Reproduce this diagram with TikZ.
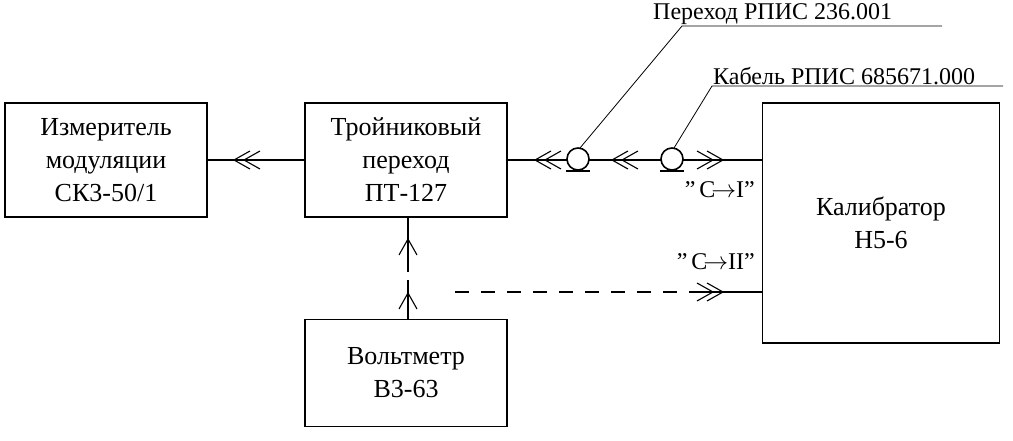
\documentclass[tikz,border=0pt]{standalone}
\usepackage{fontspec}
\setmainfont{Liberation Serif}
\usetikzlibrary{positioning}
\tikzset{x=1pt,y=-1pt,
  block/.style={draw,line width=1.6pt,align=center,inner sep=0pt,
    font=\fontsize{26}{33}\selectfont},
  lbl/.style={font=\fontsize{24}{26}\selectfont,inner sep=1pt},
  wire/.style={line width=1.6pt},
  dwire/.style={line width=1.6pt,dash pattern=on 14pt off 12pt},
  chevl/.pic={\draw[line width=1.1pt] (8,-9) -- (-8,0) -- (8,9) (18,-9) -- (2,0) -- (18,9);},
  chevr/.pic={\draw[line width=1.1pt] (-8,-9) -- (8,0) -- (-8,9) (-18,-9) -- (-2,0) -- (-18,9);},
  chevu/.pic={\draw[line width=1.1pt] (-9,12) -- (0,-4) -- (9,12);},
  plug/.pic={\draw[line width=1.6pt,fill=white] (0,-1) circle (11);
    \draw[line width=1.6pt] (-12,11) -- (12,11);}}
\begin{document}
\begin{tikzpicture}
\useasboundingbox (0,0) rectangle (1013,441);
\node[block,minimum width=202pt,minimum height=114pt] (meter) at (106,160) {Измеритель\\модуляции\\СК3-50/1};
\node[block,minimum width=202pt,minimum height=114pt] (tee) at (406,160) {Тройниковый\\переход\\ПТ-127};
\node[block,minimum width=237pt,minimum height=240pt] (cal) at (881,223) {Калибратор\\Н5-6};
\node[block,minimum width=202pt,minimum height=107pt] (volt) at (406,373) {Вольтметр\\В3-63};
% main line
\coordinate (p1) at (578,160);
\coordinate (p2) at (672,160);
\draw[wire] (meter.east) -- (tee.west);
\draw[wire] (tee.east) -- (cal.west |- tee.east);
\pic at (242,160) {chevl};
\pic at (543,160) {chevl};
\pic at (620,160) {chevl};
\pic at (715,160) {chevr};
\pic at (p1) {plug};
\pic at (p2) {plug};
% leaders
\coordinate (t1) at (682,26);
\coordinate (e1) at (942,26);
\coordinate (t2) at (712,86);
\coordinate (e2) at (1003,86);
\draw[line width=0.8pt] ([shift={(2,-12)}]p1) -- (t1) -- (e1);
\draw[line width=0.8pt] ([shift={(2,-12)}]p2) -- (t2) -- (e2);
\node[lbl,anchor=south west] (n1) at (652,26) {Переход РПИС 236.001};
\node[lbl,anchor=south west] (n2) at (712,86) {Кабель РПИС 685671.000};
\node[lbl,anchor=east] (o1) at (756,190) {\symbol{34}\,C$\!\to$I\symbol{34}};
\node[lbl,anchor=east] (o2) at (756,262) {\symbol{34}\,C$\!\to$II\symbol{34}};
% voltmeter lines
\coordinate (d1) at (455,292);
\coordinate (d2) at (700,292);
\draw[dwire] (d1) -- (d2);
\draw[wire] (d2) -- (cal.west |- d2);
\pic at (715,292) {chevr};
\coordinate (v1) at (408,260);
\coordinate (v2) at (408,288);
\draw[wire] (tee.south -| v1) -- (v1);
\draw[dwire,dash pattern=on 12pt off 8pt] (v1) -- (v2);
\draw[wire] (v2) -- (volt.north -| v2);
\pic at (408,243) {chevu};
\pic at (408,297) {chevu};
\end{tikzpicture}
\end{document}
